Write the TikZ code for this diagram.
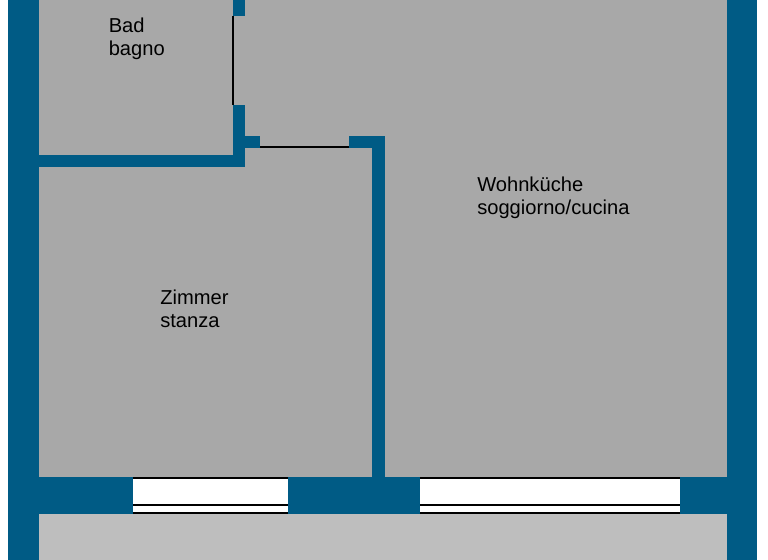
\documentclass[tikz,border=0pt]{standalone}
\usepackage{fontspec}
\setmainfont{Liberation Sans}
\definecolor{wallblue}{RGB}{0,91,133}
\definecolor{roomgray}{RGB}{168,168,168}
\definecolor{balconygray}{RGB}{190,190,190}
\tikzset{
  wall/.style={fill=wallblue,draw=none},
  room/.style={fill=roomgray,draw=none},
  pane/.style={fill=white,draw=none},
  sash/.style={draw=black,line width=1.1pt},
  doorleaf/.style={draw=black,line width=1.5pt},
  roomlabel/.style={anchor=north west,align=left,inner sep=0pt,
    font=\fontsize{15.1pt}{17.3pt}\selectfont}
}
\begin{document}
\begin{tikzpicture}[x=0.75pt,y=-0.75pt]
    \useasboundingbox (0,0) rectangle (768,560);
    % floor
    \fill[wall] (8,0) rectangle (757,560);
    \fill[room] (39,0) rectangle (727,477);
    \fill[balconygray] (39,514) rectangle (727,560);
    % walls
    \fill[wall] (39,155) rectangle (245,167);
    \fill[wall] (233,105) rectangle (245,167);
    \fill[wall] (233,0) rectangle (245,16);
    \fill[wall] (245,136) rectangle (260,148);
    \fill[wall] (349,136) rectangle (385,148);
    \fill[wall] (372,136) rectangle (385,477);
    \fill[wall] (39,477) rectangle (727,514);
    % windows
    \foreach \xa/\xb in {133/287.5,420/680} {
      \fill[pane] (\xa,478) rectangle (\xb,513);
      \draw[sash] (\xa,478) -- (\xb,478);
      \draw[sash] (\xa,505) -- (\xb,505);
      \draw[sash] (\xa,513) -- (\xb,513);
    }
    % doors
    \coordinate (d1a) at (233.2,16); \coordinate (d1b) at (233.2,105);
    \coordinate (d2a) at (260,147.2); \coordinate (d2b) at (349,147.2);
    \draw[doorleaf] (d1a) -- (d1b);
    \draw[doorleaf] (d2a) -- (d2b);
    % labels
    \node[roomlabel] (bad) at (108.5,18) {Bad\\bagno};
    \node[roomlabel] (zimmer) at (160,289.6) {Zimmer\\stanza};
    \node[roomlabel] (wohn) at (477,177) {Wohnküche\\soggiorno/cucina};
\end{tikzpicture}
\end{document}
